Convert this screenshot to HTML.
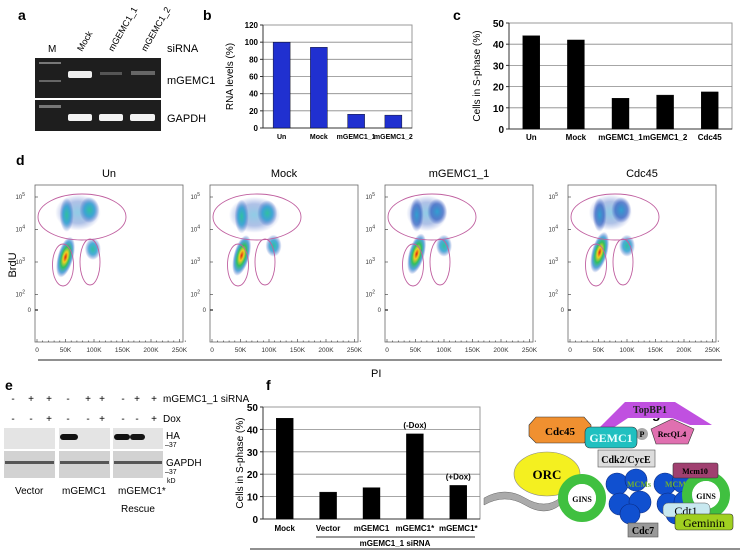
<!DOCTYPE html>
<html><head><meta charset="utf-8"><style>
html,body{margin:0;padding:0;background:#fff;}
svg{display:block;font-family:"Liberation Sans",Arial,sans-serif;}
</style></head><body>
<svg id="fig" width="740" height="551" viewBox="0 0 740 551" xmlns="http://www.w3.org/2000/svg">
<defs>
<radialGradient id="gBlue"><stop offset="0" stop-color="#2a9fd0" stop-opacity="0.95"/><stop offset="0.6" stop-color="#2f5fc0" stop-opacity="0.7"/><stop offset="1" stop-color="#3050c0" stop-opacity="0"/></radialGradient>
<radialGradient id="gHot"><stop offset="0" stop-color="#e02010"/><stop offset="0.25" stop-color="#f0d020"/><stop offset="0.5" stop-color="#30c060"/><stop offset="0.75" stop-color="#2a8fd0" stop-opacity="0.8"/><stop offset="1" stop-color="#3050c0" stop-opacity="0"/></radialGradient>
<radialGradient id="gTeal"><stop offset="0" stop-color="#30c0a0"/><stop offset="0.5" stop-color="#2a9fd0" stop-opacity="0.85"/><stop offset="1" stop-color="#3050c0" stop-opacity="0"/></radialGradient>
</defs>

<text x="18" y="20" font-size="14" font-weight="bold">a</text>
<text x="203" y="20" font-size="14" font-weight="bold">b</text>
<text x="453" y="20" font-size="14" font-weight="bold">c</text>
<text x="16" y="165" font-size="14" font-weight="bold">d</text>
<text x="5" y="390" font-size="14" font-weight="bold">e</text>
<text x="266" y="390" font-size="14" font-weight="bold">f</text>
<text x="652" y="418" font-size="14" font-weight="bold">g</text>

<g>
<text x="48" y="52" font-size="10">M</text>
<text transform="translate(82,52) rotate(-60)" font-size="9">Mock</text>
<text transform="translate(113,52) rotate(-60)" font-size="9">mGEMC1_1</text>
<text transform="translate(146,52) rotate(-60)" font-size="9">mGEMC1_2</text>
<text x="167" y="52" font-size="11">siRNA</text>
<rect x="35" y="58" width="126" height="40" fill="#1e1e1e"/>
<rect x="35" y="100" width="126" height="31" fill="#1e1e1e"/>
<rect x="39" y="62" width="22" height="2" fill="#777"/>
<rect x="39" y="80" width="22" height="2" fill="#666"/>
<rect x="68" y="71" width="24" height="7" rx="2" fill="#eee"/>
<rect x="100" y="72" width="22" height="3" fill="#555"/>
<rect x="131" y="71" width="24" height="4" fill="#666"/>
<rect x="39" y="105" width="22" height="3" fill="#777"/>
<rect x="68" y="114" width="24" height="7" rx="2" fill="#f2f2f2"/>
<rect x="99" y="114" width="24" height="7" rx="2" fill="#f2f2f2"/>
<rect x="130" y="114" width="25" height="7" rx="2" fill="#f2f2f2"/>
<text x="167" y="84" font-size="11">mGEMC1</text>
<text x="167" y="122" font-size="11">GAPDH</text>
</g>

<g id="chartB"></g>
<g id="chartC"></g>
<g id="flow"></g>
<text transform="translate(16,265) rotate(-90)" font-size="11" text-anchor="middle">BrdU</text>
<line x1="38" y1="360" x2="722" y2="360" stroke="#222" stroke-width="1"/>
<text x="371" y="377" font-size="11">PI</text>

<g font-size="10">
<g id="signs"></g>
<text x="163" y="402" font-size="10">mGEMC1_1 siRNA</text>
<text x="163" y="422" font-size="10">Dox</text>
<rect x="4" y="428" width="51" height="21" fill="#e4e4e4"/>
<rect x="59" y="428" width="51" height="21" fill="#e4e4e4"/>
<rect x="113" y="428" width="50" height="21" fill="#e4e4e4"/>
<rect x="4" y="451" width="51" height="27" fill="#d2d2d2"/>
<rect x="59" y="451" width="51" height="27" fill="#d2d2d2"/>
<rect x="113" y="451" width="50" height="27" fill="#d2d2d2"/>
<rect x="60" y="434" width="18" height="6" rx="3" fill="#111"/>
<rect x="114" y="434" width="16" height="6" rx="3" fill="#111"/>
<rect x="130" y="434" width="15" height="6" rx="3" fill="#151515"/>
<rect x="5" y="461" width="49" height="3" fill="#555"/>
<rect x="60" y="461" width="49" height="3" fill="#555"/>
<rect x="114" y="461" width="48" height="3" fill="#555"/>
<text x="166" y="439" font-size="10">HA</text>
<text x="165" y="447" font-size="7">–37</text>
<text x="166" y="466" font-size="10">GAPDH</text>
<text x="165" y="474" font-size="7">–37</text>
<text x="167" y="483" font-size="7">kD</text>
<text x="15" y="494" font-size="10">Vector</text>
<text x="62" y="494" font-size="10">mGEMC1</text>
<text x="118" y="494" font-size="10">mGEMC1*</text>
<text x="121" y="512" font-size="10">Rescue</text>
</g>

<g id="chartF"></g>
<line x1="250" y1="549" x2="740" y2="549" stroke="#222" stroke-width="1"/>

<g font-family="'Liberation Serif',serif" font-weight="bold">
<polygon points="600,427 625,402 675,402 712,425 690,425 672,418 628,418 610,430" fill="#c050e0"/>
<text x="650" y="413" font-size="10" text-anchor="middle" fill="#222">TopBP1</text>
<polygon points="536,417 584,417 591,425 591,436 584,443 536,443 529,436 529,425" fill="#f09030" stroke="#333" stroke-width="0.6"/>
<text x="560" y="435" font-size="11" text-anchor="middle">Cdc45</text>
<polygon points="672,419 694,429 688,444 656,444 651,429" fill="#e070b0" stroke="#333" stroke-width="0.6"/>
<text x="672" y="437" font-size="8" text-anchor="middle">RecQL4</text>
<circle cx="642" cy="434" r="6" fill="#aaa"/>
<text x="642" y="437" font-size="8" text-anchor="middle">P</text>
<rect x="585" y="427" width="52" height="21" rx="5" fill="#20c0c0" stroke="#333" stroke-width="0.6"/>
<text x="611" y="442" font-size="12" text-anchor="middle" fill="#e8ffff">GEMC1</text>
<rect x="598" y="450" width="57" height="17" fill="#ddd" stroke="#555" stroke-width="0.6"/>
<text x="626" y="463" font-size="10" text-anchor="middle">Cdk2/CycE</text>
<ellipse cx="547" cy="474" rx="33" ry="22" fill="#f4f020" stroke="#888" stroke-width="0.6"/>
<text x="547" y="479" font-size="13" text-anchor="middle">ORC</text>
<g fill="#aaa" stroke="#666" stroke-width="0.5">
<path d="M484,498 Q505,486 525,498 Q545,510 560,498 L560,505 Q545,517 525,505 Q505,493 484,505 Z"/>
</g>
<g fill="#1050d0" stroke="#0a2a80" stroke-width="0.6">
<circle cx="617" cy="484" r="11"/><circle cx="636" cy="480" r="11"/><circle cx="620" cy="504" r="11"/><circle cx="640" cy="502" r="11"/><circle cx="630" cy="514" r="10"/>
<circle cx="665" cy="484" r="11"/><circle cx="683" cy="482" r="11"/><circle cx="668" cy="504" r="11"/><circle cx="685" cy="502" r="11"/><circle cx="676" cy="514" r="10"/>
</g>
<text x="627" y="487" font-size="8" fill="#70b030">MCMs</text>
<text x="665" y="487" font-size="8" fill="#70b030">MCMs</text>
<circle cx="582" cy="498" r="19" fill="none" stroke="#40c040" stroke-width="10"/>
<circle cx="582" cy="498" r="14" fill="#fff"/>
<text x="582" y="502" font-size="8" text-anchor="middle">GINS</text>
<circle cx="706" cy="495" r="19" fill="none" stroke="#40c040" stroke-width="10"/>
<circle cx="706" cy="495" r="14" fill="#fff"/>
<text x="706" y="499" font-size="8" text-anchor="middle">GINS</text>
<rect x="673" y="463" width="45" height="15" rx="2" fill="#a04070" stroke="#333" stroke-width="0.6"/>
<text x="695" y="474" font-size="8" text-anchor="middle">Mcm10</text>
<rect x="663" y="503" width="47" height="14" rx="5" fill="#c8e8f0" stroke="#555" stroke-width="0.5"/>
<text x="686" y="515" font-size="12" text-anchor="middle" font-weight="normal">Cdt1</text>
<rect x="675" y="514" width="58" height="16" rx="3" fill="#a0d020" stroke="#333" stroke-width="0.6"/>
<text x="704" y="527" font-size="12" text-anchor="middle" font-weight="normal">Geminin</text>
<rect x="628" y="523" width="30" height="14" fill="#999" stroke="#555" stroke-width="0.6"/>
<text x="643" y="534" font-size="10" text-anchor="middle">Cdc7</text>
</g>
</svg>

<script>
const NS="http://www.w3.org/2000/svg";
function mk(parent,tag,attrs,txt){const e=document.createElementNS(NS,tag);for(const k in attrs)e.setAttribute(k,attrs[k]);if(txt!==undefined)e.textContent=txt;parent.appendChild(e);return e;}

const bCategories=["Un","Mock","mGEMC1_1","mGEMC1_2"];
const bValues=[100,94,16,15];
const bTicks=[0,20,40,60,80,100,120];
const cCategories=["Un","Mock","mGEMC1_1","mGEMC1_2","Cdc45"];
const cValues=[44,42,14.5,16,17.5];
const cTicks=[0,10,20,30,40,50];
const fCategories=["Mock","Vector","mGEMC1","mGEMC1*","mGEMC1*"];
const fValues=[45,12,14,38,15];
const fTicks=[0,10,20,30,40,50];
const fNotes=["","","","(-Dox)","(+Dox)"];

function barChart(g,o,cats,vals,ticks,notes){
  const yMax=ticks[ticks.length-1];
  const y=v=>o.y0-(v/yMax)*(o.y0-o.y1);
  const step=(o.x1-o.x0)/cats.length;
  const x=i=>o.x0+step*(i+0.5);
  mk(g,"rect",{x:o.x0,y:o.y1,width:o.x1-o.x0,height:o.y0-o.y1,fill:"none",stroke:"#999","stroke-width":1});
  ticks.forEach(t=>{
    if(t>0&&t<yMax) mk(g,"line",{x1:o.x0,x2:o.x1,y1:y(t),y2:y(t),stroke:"#888","stroke-width":0.8});
    mk(g,"line",{x1:o.x0-3,x2:o.x0,y1:y(t),y2:y(t),stroke:"#333"});
    const tl=mk(g,"text",{x:o.x0-5,y:y(t)+o.fs/2-1,"font-size":o.fs,"font-weight":"bold","text-anchor":"end"},t);
    
    
  });
  mk(g,"line",{x1:o.x0,x2:o.x0,y1:o.y1,y2:o.y0,stroke:"#333"});
  mk(g,"line",{x1:o.x0,x2:o.x1,y1:o.y0,y2:o.y0,stroke:"#333"});
  cats.forEach((c,i)=>{
    const b=mk(g,"rect",{x:x(i)-o.bw/2,y:y(vals[i]),width:o.bw,height:o.y0-y(vals[i]),fill:o.color,stroke:"#000","stroke-width":0.4});
    
    
    const l=mk(g,"text",{x:x(i),y:o.y0+o.labDy,"font-size":o.lfs,"font-weight":"bold","text-anchor":"middle"},c);
    
    
    if(notes&&notes[i]){
      const n=mk(g,"text",{x:x(i),y:y(vals[i])-6,"font-size":8,"font-weight":"bold","text-anchor":"middle"},notes[i]);
      
      
    }
  });
  const t=mk(g,"text",{transform:`translate(${o.tx},${(o.y0+o.y1)/2}) rotate(-90)`,"font-size":o.tfs,"text-anchor":"middle"},o.title);
  
  
}
barChart(document.getElementById("chartB"),{x0:263,x1:412,y0:128,y1:25,bw:17,color:"#2030d0",fs:8,lfs:7,labDy:11,tx:233,tfs:10,title:"RNA levels (%)"},bCategories,bValues,bTicks);
barChart(document.getElementById("chartC"),{x0:509,x1:732,y0:129,y1:23,bw:17,color:"#000",fs:10,lfs:8,labDy:11,tx:480,tfs:10,title:"Cells in S-phase (%)"},cCategories,cValues,cTicks);
barChart(document.getElementById("chartF"),{x0:263,x1:480,y0:519,y1:407,bw:17,color:"#000",fs:10,lfs:8,labDy:12,tx:243,tfs:10,title:"Cells in S-phase (%)"},fCategories,fValues,fTicks,fNotes);
(function(){const g=document.getElementById("chartF");
mk(g,"line",{x1:316,x2:475,y1:537,y2:537,stroke:"#333"});
const s=mk(g,"text",{x:395,y:546,"font-size":8,"font-weight":"bold","text-anchor":"middle"},"mGEMC1_1 siRNA");

})();

const siRow=["-","+","+","-","+","+","-","+","+"];
const doxRow=["-","-","+","-","-","+","-","-","+"];
const signX=[13,31,49,68,88,102,123,137,154];
(function(){const g=document.getElementById("signs");
siRow.forEach((s,i)=>{const t=mk(g,"text",{x:signX[i],y:402,"font-size":10,"text-anchor":"middle"},s);});
doxRow.forEach((s,i)=>{const t=mk(g,"text",{x:signX[i],y:422,"font-size":10,"text-anchor":"middle"},s);});
})();

const flowTitles=["Un","Mock","mGEMC1_1","Cdc45"];
const flowLeft=[35,210,385,568];
const flowG1=[[50,3.15],[52,3.2],[52,3.25],[52,3.3]];
const flowG2=[[98,3.4],[108,3.5],[100,3.5],[100,3.5]];
const flowSLeft=[[52,4.45],[52,4.4],[52,4.45],[52,4.45]];
const flowSRight=[[92,4.6],[97,4.5],[88,4.55],[90,4.6]];
const xTicks=["0","50K","100K","150K","200K","250K"];
const xTickVals=[0,50,100,150,200,250];
const yTickVals=[5,4,3,2];
(function(){
  const root=document.getElementById("flow");
  const top=185,W=148,H=157;
  flowTitles.forEach((title,p)=>{
    const L=flowLeft[p];
    const g=mk(root,"g",{});
    
    
    const X=v=>L+2+v/50*28.5;
    const Y=l=>top+12+(5-l)*32.5;
    const t=mk(g,"text",{x:L+W/2,y:177,"font-size":11,"text-anchor":"middle"},title);
    
    
    mk(g,"rect",{x:L,y:top,width:W,height:H,fill:"#fff",stroke:"#666","stroke-width":0.8});
    const s1=flowSLeft[p],s2=flowSRight[p],g1=flowG1[p],g2=flowG2[p];
    mk(g,"ellipse",{cx:X((s1[0]+s2[0])/2),cy:Y((s1[1]+s2[1])/2),rx:X(s2[0])-X(s1[0]),ry:18,fill:"url(#gBlue)",opacity:0.55});
    mk(g,"ellipse",{cx:X(s1[0]),cy:Y(s1[1]),rx:7,ry:17,fill:p<2?"url(#gTeal)":"url(#gBlue)"});
    mk(g,"ellipse",{cx:X(s2[0]),cy:Y(s2[1]),rx:10,ry:13,fill:p<2?"url(#gTeal)":"url(#gBlue)"});
    mk(g,"ellipse",{cx:X(g1[0]),cy:Y(g1[1]),rx:8,ry:21,fill:"url(#gHot)",transform:`rotate(15 ${X(g1[0])} ${Y(g1[1])})`});
    mk(g,"ellipse",{cx:X(g2[0]),cy:Y(g2[1]),rx:8,ry:11,fill:"url(#gTeal)"});
    mk(g,"ellipse",{cx:L+47,cy:top+32,rx:44,ry:23,fill:"none",stroke:"#c060a0","stroke-width":0.9});
    mk(g,"ellipse",{cx:L+28,cy:top+80,rx:10.5,ry:21,fill:"none",stroke:"#c060a0","stroke-width":0.9});
    mk(g,"ellipse",{cx:L+55,cy:top+77,rx:10,ry:23,fill:"none",stroke:"#c060a0","stroke-width":0.9});
    for(let k=0;k<=26;k++){const xv=X(k*10);mk(g,"line",{x1:xv,x2:xv,y1:top+H,y2:top+H-(k%5?1.5:3),stroke:"#333","stroke-width":0.6});}
    xTickVals.forEach((v,i)=>{const tl=mk(g,"text",{x:X(v),y:top+H+10,"font-size":6.5,"text-anchor":"middle",fill:"#333"},xTicks[i]);});
    yTickVals.forEach(l=>{
      mk(g,"line",{x1:L,x2:L+3,y1:Y(l),y2:Y(l),stroke:"#333","stroke-width":0.6});
      const tl=mk(g,"text",{x:L-10,y:Y(l)+2,"font-size":6,"text-anchor":"end",fill:"#333"});
      
      
      mk(tl,"tspan",{},"10");mk(tl,"tspan",{dy:-3,"font-size":5},String(l));
    });
    mk(g,"line",{x1:L,x2:L+3,y1:top+125,y2:top+125,stroke:"#222","stroke-width":1.2});
    const z=mk(g,"text",{x:L-4,y:top+127,"font-size":6,"text-anchor":"end",fill:"#333"},"0");
    
    
  });
})();
</script>
</body></html>
